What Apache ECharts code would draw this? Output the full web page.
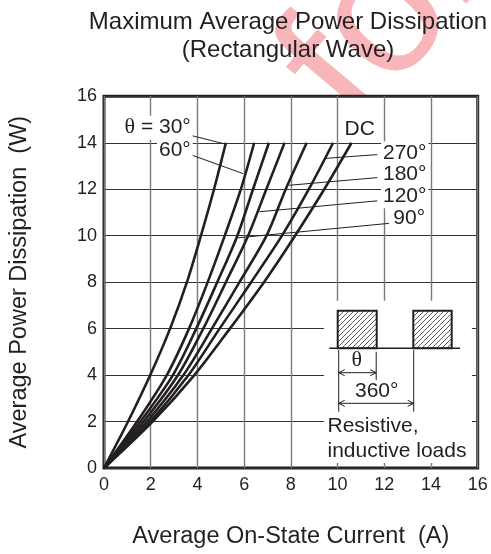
<!DOCTYPE html>
<html>
<head>
<meta charset="utf-8">
<script src="https://cdn.jsdelivr.net/npm/echarts@6/dist/echarts.min.js"></script>
<style>
html, body { margin: 0; padding: 0; background: #fff; }
#main { width: 491px; height: 554px; }
</style>
</head>
<body>
<div id="main"></div>
<script>
// power levels (W) where each curve was read, and the current (A) of each curve there
var powerLevels = [0, 2, 4, 6, 8, 10, 12, 14];
var current30  = [0, 1.03, 1.98, 2.83, 3.55, 4.15, 4.71, 5.22];
var current60  = [0, 1.42, 2.69, 3.64, 4.44, 5.17, 5.86, 6.43];
var current90  = [0, 1.56, 2.95, 3.95, 4.85, 5.71, 6.38, 7.06];
var current120 = [0, 1.70, 3.17, 4.25, 5.22, 6.17, 6.95, 7.73];
var current180 = [0, 1.84, 3.40, 4.62, 5.80, 6.96, 7.78, 8.68];
var current270 = [0, 1.98, 3.62, 4.95, 6.30, 7.62, 8.77, 9.81];
var currentDC  = [0, 2.08, 3.87, 5.39, 6.85, 8.18, 9.43, 10.6];
var curveNames = ['30°', '60°', '90°', '120°', '180°', '270°', 'DC'];
var curveCurrents = [current30, current60, current90, current120, current180, current270, currentDC];

var FONT = '"Liberation Sans", Arial, Helvetica, sans-serif';
var SERIF = '"Liberation Serif", "Times New Roman", serif';
var INK = '#231f20';

// annotation texts and leader lines (data units)
var annotations = [
  { text: '{s|θ} = 30°', at: [3.8, 14.65], align: 'right' },
  { text: '60°', at: [3.8, 13.7], align: 'right' },
  { text: 'DC', at: [10.95, 14.6], align: 'center' },
  { text: '270°', at: [11.86, 13.56], align: 'left' },
  { text: '180°', at: [11.86, 12.64], align: 'left' },
  { text: '120°', at: [11.86, 11.68], align: 'left' },
  { text: '90°', at: [12.3, 10.76], align: 'left' }
];
var leaders = [
  [[3.67, 14.33], [5.17, 13.95]],
  [[3.73, 13.48], [5.96, 12.67]],
  [[11.7, 13.49], [9.5, 13.33]],
  [[11.7, 12.5], [7.93, 12.17]],
  [[11.7, 11.5], [6.65, 11.03]],
  [[12.2, 10.53], [5.74, 9.91]]
];
var insetBox = [[9.42, 0.22], [15.75, 7.2]];

var chart = echarts.init(document.getElementById('main'));

var hatch = document.createElement('canvas');
hatch.width = 5; hatch.height = 5;
var hc = hatch.getContext('2d');
hc.strokeStyle = '#333';
hc.lineWidth = 0.8;
hc.beginPath();
hc.moveTo(0, 5); hc.lineTo(5, 0);
hc.moveTo(-1, 1); hc.lineTo(1, -1);
hc.moveTo(4, 6); hc.lineTo(6, 4);
hc.stroke();

var series = curveNames.map(function (name, i) {
  return {
    type: 'line',
    name: name,
    data: curveCurrents[i].map(function (c, j) { return [c, powerLevels[j]]; }),
    smooth: 0.3,
    symbol: 'none',
    silent: true,
    z: 3,
    lineStyle: { color: INK, width: 2.6 }
  };
});

series.push({
  type: 'scatter',
  name: 'notes',
  symbolSize: 0,
  silent: true,
  z: 5,
  itemStyle: { opacity: 1 },
  data: annotations.map(function (a) {
    return {
      value: a.at,
      label: {
        show: true,
        position: 'inside',
        align: a.align,
        verticalAlign: 'middle',
        formatter: a.text,
        fontSize: 21,
        fontFamily: FONT,
        color: INK,
        opacity: 1,
        backgroundColor: '#fff',
        padding: [1, 2],
        rich: { s: { fontFamily: SERIF, fontSize: 22, color: INK } }
      }
    };
  }),
  markLine: {
    silent: true,
    symbol: ['none', 'path://M0,10 L5,0 L10,10 L8.6,10 L5,3 L1.4,10 Z'],
    symbolSize: [0, [7, 8]],
    label: { show: false },
    lineStyle: { color: INK, width: 1, type: 'solid', opacity: 1 },
    animation: false,
    data: leaders.map(function (l) {
      return [{ coord: l[0] }, { coord: l[1] }];
    })
  },
  markArea: {
    silent: true,
    itemStyle: { color: '#fff', opacity: 1 },
    data: [[{ coord: insetBox[0] }, { coord: insetBox[1] }]]
  }
});

function arrowHead(x, y, dir) {
  return { type: 'polyline', z: 20, shape: { points: [[x + dir * 6, y - 3], [x, y], [x + dir * 6, y + 3]] },
           style: { stroke: INK, lineWidth: 1, fill: null } };
}
function seg(x1, y1, x2, y2, w) {
  return { type: 'line', z: 20, shape: { x1: x1, y1: y1, x2: x2, y2: y2 }, style: { stroke: INK, lineWidth: w || 1 } };
}
function txt(x, y, t, size, align, fam) {
  return { type: 'text', z: 20, x: x, y: y,
           style: { text: t, fill: INK, font: size + 'px ' + (fam || FONT), align: align || 'center', verticalAlign: 'middle' } };
}

var graphics = [
  // watermark
  { type: 'text', z: -10, x: 362, y: 134, rotation: 50 * Math.PI / 180,
    style: { text: 'for', fill: '#f8b6ba', font: '185px ' + FONT, verticalAlign: 'middle', y: -55 } },
  // title
  txt(288, 22, 'Maximum Average Power Dissipation', 24),
  txt(288, 50, '(Rectangular Wave)', 24),
  // inset waveform
  { type: 'rect', z: 20, shape: { x: 337.7, y: 310.7, width: 39, height: 37.6 },
    style: { fill: { image: hatch, repeat: 'repeat' }, stroke: INK, lineWidth: 2 } },
  { type: 'rect', z: 20, shape: { x: 413.3, y: 310.7, width: 38.4, height: 37.6 },
    style: { fill: { image: hatch, repeat: 'repeat' }, stroke: INK, lineWidth: 2 } },
  seg(329.3, 348.3, 460, 348.3, 1.5),
  seg(338.7, 350, 338.7, 411.7),
  seg(376.2, 351.7, 376.2, 380),
  seg(413.7, 350, 413.7, 411.7),
  seg(338.7, 372.7, 376.2, 372.7),
  arrowHead(338.7, 372.7, 1),
  arrowHead(376.2, 372.7, -1),
  seg(338.7, 403.3, 413.7, 403.3),
  arrowHead(338.7, 403.3, 1),
  arrowHead(413.7, 403.3, -1),
  txt(356.7, 360, 'θ', 22, 'center', SERIF),
  txt(376.7, 391.5, '360°', 21),
  txt(327.5, 426.5, 'Resistive,', 21, 'left'),
  txt(327.5, 451.5, 'inductive loads', 21, 'left')
];

var option = {
  animation: false,
  backgroundColor: '#fff',
  grid: {
    left: 101.7, right: 13.3, top: 96.3, bottom: 83.3,
    show: true, borderColor: INK, borderWidth: 3, backgroundColor: '#fff'
  },
  xAxis: {
    type: 'value', min: 0, max: 16, interval: 2,
    axisLine: { show: false }, axisTick: { show: false },
    axisLabel: { fontSize: 18, color: INK, fontFamily: FONT, margin: 8 },
    splitLine: { lineStyle: { color: '#7a7a7a', width: 1.4 } },
    name: 'Average On-State Current  (A)', nameLocation: 'middle', nameGap: 57,
    nameTextStyle: { fontSize: 23.5, color: INK, fontFamily: FONT }
  },
  yAxis: {
    type: 'value', min: 0, max: 16, interval: 2,
    axisLine: { show: false }, axisTick: { show: false },
    axisLabel: { fontSize: 18, color: INK, fontFamily: FONT, margin: 7 },
    splitLine: { lineStyle: { color: '#333', width: 1 } },
    name: 'Average Power Dissipation  (W)', nameLocation: 'middle', nameGap: 72,
    nameTextStyle: { fontSize: 23.5, color: INK, fontFamily: FONT }
  },
  graphic: graphics,
  series: series
};

chart.setOption(option);
</script>
</body>
</html>
